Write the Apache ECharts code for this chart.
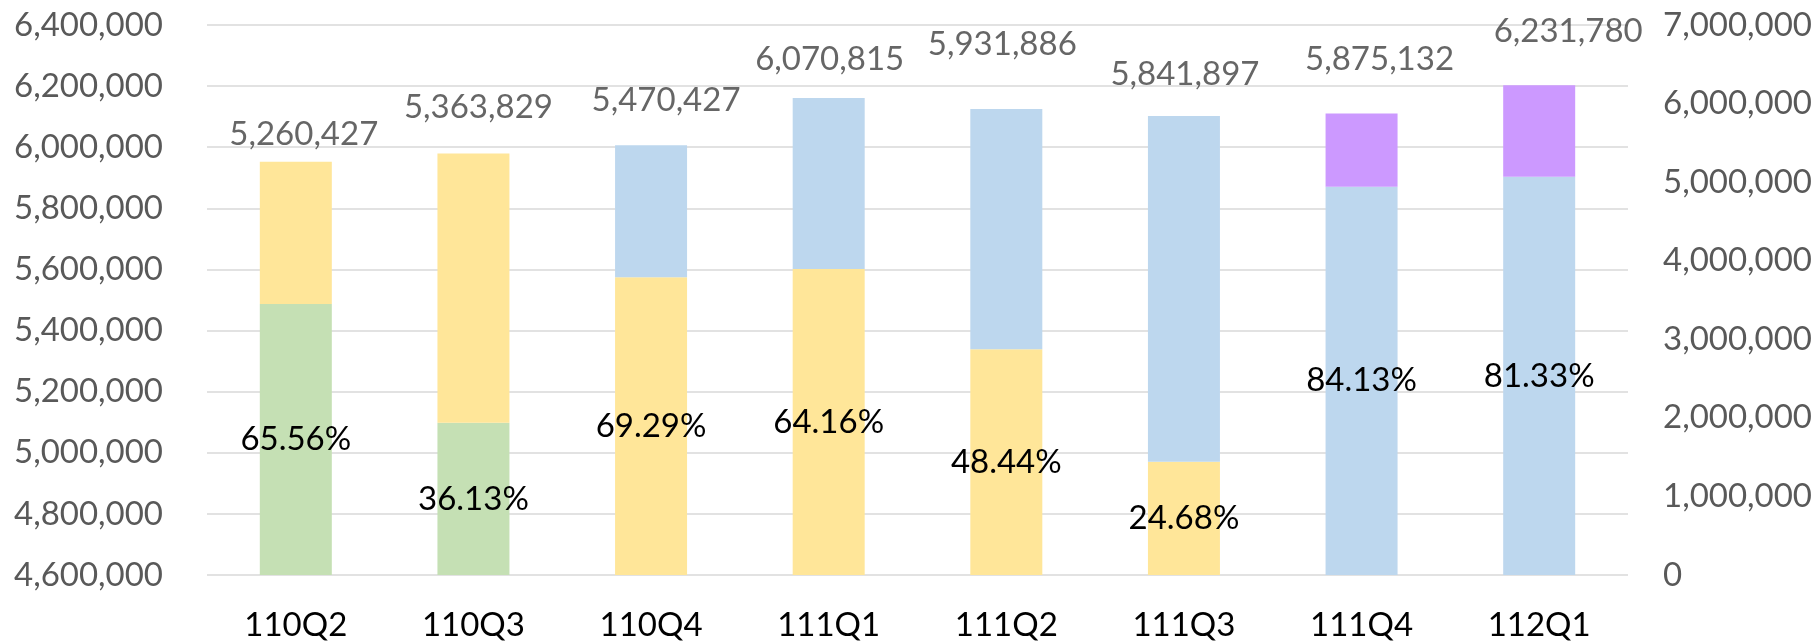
<!DOCTYPE html>
<html>
<head>
<meta charset="utf-8">
<script src="https://cdn.jsdelivr.net/npm/echarts@6/dist/echarts.min.js"></script>
<style>
html,body{margin:0;padding:0;background:#fff;}
#chart{width:1816px;height:642px;}
</style>
</head>
<body>
<div id="chart"></div>
<script>
// ---- data ----
const categories = ['110Q2','110Q3','110Q4','111Q1','111Q2','111Q3','111Q4','112Q1'];
const greenValues  = [3448736, 1937951, null, null, null, null, null, null];
const yellowValues = [1811691, 3425878, 3790459, 3895035, 2873406, 1441780, null, null];
const blueValues   = [null, null, 1679968, 2175780, 3058480, 4400117, 4942749, 5068307];
const purpleValues = [null, null, null, null, null, null, 932383, 1163473];
const leftTicks  = {min: 4600000, max: 6400000, interval: 200000};
const rightTicks = {min: 0, max: 7000000, interval: 1000000};

// label nudges (layout only): [dx, dy] from the top of each stack
const totalLabelNudge = [[8,-27],[5,-46],[15,-45],[1,-39],[-4,-65],[1,-42],[18,-54],[29,-54]];

const seriesData = [greenValues, yellowValues, blueValues, purpleValues];
const colors = ['#C5E0B4', '#FFE699', '#BDD7EE', '#CC99FF'];
const totals = categories.map((c, j) => seriesData.reduce((s, arr) => s + (arr[j] || 0), 0));
const fmt = v => Number(v).toLocaleString('en-US');
const FONT = 'Lato';
const FS = 33;

function isBottom(i, j) {
  if (seriesData[i][j] == null) return false;
  for (let k = 0; k < i; k++) if (seriesData[k][j] != null) return false;
  return true;
}

const barSeries = seriesData.map((arr, i) => ({
  type: 'bar',
  stack: 'total',
  yAxisIndex: 1,
  barWidth: 72,
  data: arr,
  itemStyle: {color: colors[i]},
  label: {
    show: true,
    position: 'inside',
    color: '#000',
    fontFamily: FONT,
    fontSize: FS,
    formatter: p => isBottom(i, p.dataIndex) ? (p.value / totals[p.dataIndex] * 100).toFixed(2) + '%' : ''
  },
  emphasis: {disabled: true},
  animation: false
}));

const totalSeries = {
  type: 'scatter',
  yAxisIndex: 1,
  symbolSize: 0,
  data: totals.map((v, j) => ({
    value: v,
    label: {offset: totalLabelNudge[j]}
  })),
  label: {
    show: true,
    position: 'inside',
    color: '#404040',
    fontFamily: FONT,
    fontSize: FS,
    formatter: p => fmt(p.value)
  },
  z: 10,
  animation: false
};

const chart = echarts.init(document.getElementById('chart'), null, {renderer: 'canvas'});
chart.setOption({
  backgroundColor: '#fff',
  animation: false,
  grid: {left: 207, right: 188, top: 25, bottom: 65, containLabel: false},
  xAxis: {
    type: 'category',
    data: categories,
    axisLine: {show: false},
    axisTick: {show: false},
    axisLabel: {color: '#000', fontFamily: FONT, fontSize: FS, margin: 34}
  },
  yAxis: [
    {
      type: 'value',
      min: leftTicks.min, max: leftTicks.max, interval: leftTicks.interval,
      position: 'left',
      axisLine: {show: false},
      axisTick: {show: false},
      splitLine: {show: true, lineStyle: {color: '#D9D9D9', width: 1.5}},
      axisLabel: {color: '#595959', fontFamily: FONT, fontSize: FS, margin: 44, formatter: v => fmt(v)}
    },
    {
      type: 'value',
      min: rightTicks.min, max: rightTicks.max, interval: rightTicks.interval,
      position: 'right',
      axisLine: {show: false},
      axisTick: {show: false},
      splitLine: {show: false},
      axisLabel: {color: '#595959', fontFamily: FONT, fontSize: FS, margin: 35, formatter: v => fmt(v)}
    }
  ],
  series: [...barSeries, totalSeries]
});
</script>
</body>
</html>
